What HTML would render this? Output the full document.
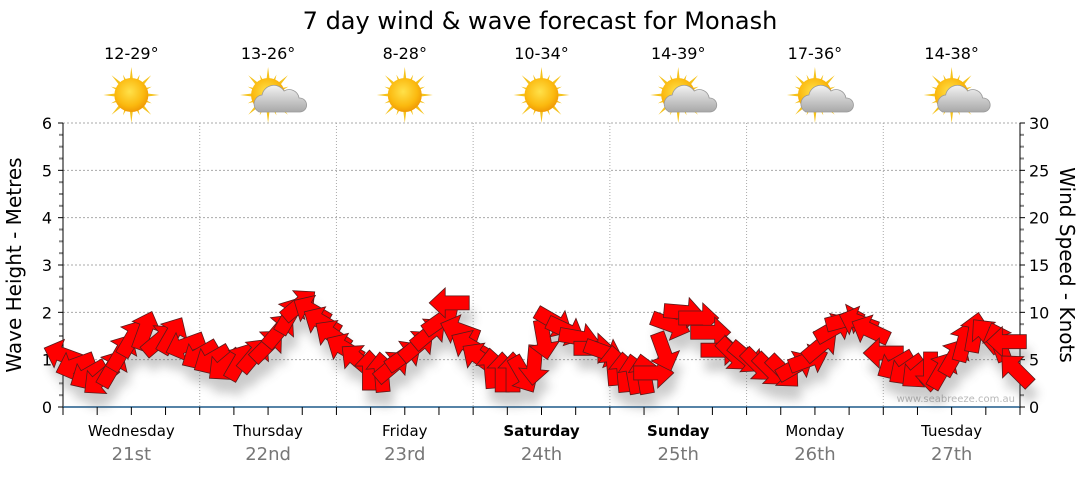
<!DOCTYPE html>
<html><head><meta charset="utf-8"><style>
html,body{margin:0;padding:0;background:#fff;}
body{width:1080px;height:475px;overflow:hidden;font-family:"DejaVu Sans","Liberation Sans",sans-serif;}
</style></head><body>
<svg id="chart" width="1080" height="475" xmlns="http://www.w3.org/2000/svg" font-family="DejaVu Sans, Liberation Sans, sans-serif">
<defs>
<radialGradient id="sunG" cx="45%" cy="40%" r="60%"><stop offset="0" stop-color="#ffe14a"/><stop offset="0.7" stop-color="#fbb90f"/><stop offset="1" stop-color="#f09a05"/></radialGradient>
<linearGradient id="cloudG" x1="0" y1="0" x2="0" y2="1"><stop offset="0" stop-color="#f2f2f2"/><stop offset="1" stop-color="#a8a8a8"/></linearGradient>
<filter id="shadow" x="-30%" y="-30%" width="160%" height="160%"><feGaussianBlur stdDeviation="5"/></filter>
</defs>
<text x="540" y="29" font-size="24" text-anchor="middle" fill="#000">7 day wind &amp; wave forecast for Monash</text>
<g id="grid"></g><g id="axes"></g><g id="top"></g>
<text x="1015" y="402" font-size="10" text-anchor="end" fill="#b8b8b8">www.seabreeze.com.au</text>
<g id="shadows" filter="url(#shadow)" opacity="0.3"></g>
<g id="arrows"></g>
<text transform="translate(21,265) rotate(-90)" font-size="20" text-anchor="middle">Wave Height - Metres</text>
<text transform="translate1(0,0)" font-size="20" text-anchor="middle" id="rt">Wind Speed - Knots</text>
</svg>
<script>
const dayNames=["Wednesday","Thursday","Friday","Saturday","Sunday","Monday","Tuesday"];
const dayDates=["21st","22nd","23rd","24th","25th","26th","27th"];
const dayBold=[false,false,false,true,true,false,false];
const tempRanges=["12-29°","13-26°","8-28°","10-34°","14-39°","17-36°","14-38°"];
const iconTypes=["sun","partly","sun","sun","partly","partly","partly"];
const leftTicks=[0,1,2,3,4,5,6];
const rightTicks=[0,5,10,15,20,25,30];
const windHours=[0,2.1,4.4,6.5,8.6,10.3,12.1,14.4,17,19.1,21.4,
24,26.1,28.4,31,33.6,35.9,38,39.8,41.5,43.6,45.4,47.3,
49.4,51.7,53.8,55.9,57.8,59.9,62.2,64.3,66.4,67.8,69.6,71.3,
73.1,75.2,77.1,79,80.8,82.7,84.4,86.2,88.3,90.6,93.2,95,
96.7,98.5,100.2,102,103.7,105.5,106.7,109,111.6,113.7,115.5,117.8,
120,122.1,124.2,126.5,128.6,130.9,133,135.3,137.4,139.6,141.7,
144,146.1,148,150.1,152.3,154.3,156.4,158.2,160.1,162.1,164.2,165.6,167.3];
const windKnots=[5.5,4.4,3.4,2.9,4.1,5.8,7.3,8.1,7.1,7.6,6.5,
5.5,5.0,4.4,4.8,5.5,6.5,8.1,9.7,10.8,10.2,9.0,7.6,
6.2,5.0,3.9,3.7,4.3,5.4,6.5,7.8,9.2,11.0,8.1,6.5,
5.2,4.1,3.7,3.7,3.4,4.4,7.1,9.0,8.1,7.3,6.2,5.8,
4.4,3.7,3.5,3.5,3.6,5.8,8.7,10.0,9.4,7.9,6.0,5.5,
5.2,4.4,3.9,3.7,4.3,5.0,6.5,8.3,9.2,9.0,8.1,
5.7,4.4,3.9,3.6,3.7,3.9,5.3,6.9,7.9,7.6,6.9,6.9,3.9];
const windDir=[200,160,150,140,300,300,300,290,320,300,160,
150,150,140,300,310,315,310,300,320,210,210,215,
210,220,270,265,320,325,320,320,325,180,200,210,
215,265,270,270,60,95,80,30,25,10,0,20,
265,265,260,260,0,70,20,5,0,0,0,45,
40,45,45,45,330,340,320,330,345,200,205,
180,150,145,140,90,300,300,285,280,230,250,180,225];

const X0=63,X1=1020,Y0=407,Y1=123;
const NS="http://www.w3.org/2000/svg";
document.getElementById('rt').setAttribute('transform','translate(1060,265) rotate(90)');
function xOfHour(h){return X0+h/168*(X1-X0);}
function yOfM(m){return Y0-m/6*(Y0-Y1);}
function yOfKn(k){return Y0-k/30*(Y0-Y1);}
function mk(tag,attrs,parent){const e=document.createElementNS(NS,tag);for(const k in attrs)e.setAttribute(k,attrs[k]);parent.appendChild(e);return e;}
const grid=document.getElementById('grid'),axes=document.getElementById('axes'),top_=document.getElementById('top');

leftTicks.forEach(v=>{
  const y=yOfM(v);
  if(v>0){const g=mk('line',{x1:X0,x2:X1,y1:y,y2:y,stroke:'#aaa','stroke-dasharray':'2,2'},grid);
  
  }
  const t=mk('text',{x:52,y:y+6,'font-size':16,'text-anchor':'end'},axes);t.textContent=v;
  
  
});
for(let m=0;m<=6;m+=0.25){const y=yOfM(m);const major=Number.isInteger(m);
  mk('line',{x1:X0-(major?5:4),x2:X0,y1:y,y2:y,stroke:major?'#000':'#888','stroke-width':major?1:2},axes);
  mk('line',{x1:X1,x2:X1+(major?5:4),y1:y,y2:y,stroke:major?'#000':'#888','stroke-width':major?1:2},axes);}
rightTicks.forEach(v=>{const t=mk('text',{x:1029,y:yOfKn(v)+6,'font-size':16},axes);t.textContent=v;
  
  });
mk('line',{x1:X0,x2:X0,y1:Y1,y2:Y0+8,stroke:'#000'},axes);
mk('line',{x1:X1,x2:X1,y1:Y1,y2:Y0,stroke:'#000'},axes);
mk('line',{x1:X0,x2:X1,y1:Y0,y2:Y0,stroke:'#1f5a8a','stroke-width':1.5},axes);
for(let h=0;h<=168;h+=6){const x=xOfHour(h);mk('line',{x1:x,x2:x,y1:Y0,y2:Y0+8,stroke:'#000'},axes);}
dayNames.forEach((d,i)=>{
  const cx=xOfHour(i*24+12);
  if(i>0){const gl=mk('line',{x1:xOfHour(i*24),x2:xOfHour(i*24),y1:Y1,y2:Y0,stroke:'#aaa','stroke-dasharray':'1,2'},grid);
    
    }
  const t=mk('text',{x:cx,y:436,'font-size':15,'text-anchor':'middle','font-weight':dayBold[i]?'bold':'normal'},axes);t.textContent=d;
  
  
  const t2=mk('text',{x:cx,y:460,'font-size':18,'text-anchor':'middle',fill:'#777'},axes);t2.textContent=dayDates[i];
  
  
  const t3=mk('text',{x:cx,y:59,'font-size':16,'text-anchor':'middle'},top_);t3.textContent=tempRanges[i];
  
  
  const g=mk('g',{transform:`translate(${cx},95)`},top_);
  
  
  for(let a=0;a<16;a++){const ang=a*22.5*Math.PI/180,L=a%2?22:28;
    const p1=[Math.cos(ang)*L,Math.sin(ang)*L],q=ang+Math.PI/2;
    mk('polygon',{points:`${p1} ${Math.cos(q)*3.5},${Math.sin(q)*3.5} ${-Math.cos(q)*3.5},${-Math.sin(q)*3.5}`,fill:'#f5c21b'},g);}
  mk('circle',{cx:0,cy:0,r:17,fill:'url(#sunG)'},g);
  if(iconTypes[i]==='partly'){
    mk('path',{d:'M-9,17 a9,9 0 0 1 3,-17 a12,12 0 0 1 22,-4 a10,10 0 0 1 15,7 a7,7 0 0 1 1,14 z',fill:'url(#cloudG)',stroke:'#999','stroke-width':0.8},g);}
});
const arrows=document.getElementById('arrows'),shadows=document.getElementById('shadows');
const shape="M-20,-7 L4,-7 L4,-15 L20,0 L4,15 L4,7 L-20,7 Z";
windHours.forEach((h,i)=>{
  const x=xOfHour(h),y=yOfKn(windKnots[i]);
  const s=mk('path',{d:shape,transform:`translate(${x+4},${y+14}) rotate(${windDir[i]})`,fill:'#555'},shadows);
  
  
  const a=mk('path',{d:shape,transform:`translate(${x},${y}) rotate(${windDir[i]})`,fill:'#ff0000',stroke:'#5a1a1a','stroke-width':0.8},arrows);
  
  
});
</script>
</body></html>
